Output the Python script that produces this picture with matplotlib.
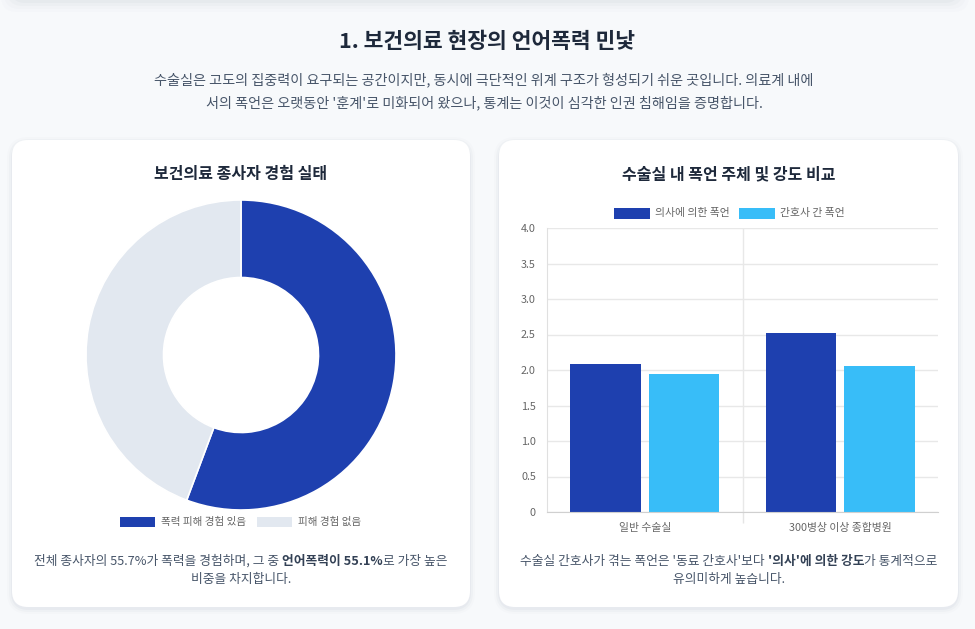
# 보건의료 현장의 언어폭력 - donut + grouped bar dashboard

import numpy as np
import matplotlib.pyplot as plt
from matplotlib.patches import FancyBboxPatch, Rectangle

plt.rcParams['font.family'] = ['Noto Sans CJK KR', 'DejaVu Sans']

# data
donut_labels = ['폭력 피해 경험 있음', '피해 경험 없음']
donut_values = [55.7, 44.3]

bar_categories = ['일반 수술실', '300병상 이상 종합병원']
bar_series = ['의사에 의한 폭언', '간호사 간 폭언']
doctor_values = [2.09, 2.52]
nurse_values = [1.95, 2.05]
y_ticks = [0, 0.5, 1.0, 1.5, 2.0, 2.5, 3.0, 3.5, 4.0]
y_tick_labels = ['0', '0.5', '1.0', '1.5', '2.0', '2.5', '3.0', '3.5', '4.0']

# colours
BG = '#f7f9fb'
DARK = '#1e40af'
SKY = '#38bdf8'
PALE = '#e2e8f0'
TITLE = '#1e293b'
BODY = '#475569'
TICK = '#666666'

W, H = 975, 629
fig = plt.figure(figsize=(W / 100, H / 100), dpi=100, facecolor=BG)

# background axes in pixel coordinates (y downwards)
bg = fig.add_axes([0, 0, 1, 1], zorder=0)
bg.set_xlim(0, W)
bg.set_ylim(H, 0)
bg.axis('off')
bg.set_facecolor(BG)


def card(x0, y0, x1, y1):
    # soft shadow
    for i, a in enumerate([0.05, 0.035, 0.02]):
        s = 2 + i * 2
        bg.add_patch(FancyBboxPatch((x0 - s + 1, y0 - s + 3), x1 - x0 + 2 * s - 2,
                                    y1 - y0 + 2 * s - 2,
                                    boxstyle='round,pad=0,rounding_size=%d' % (16 + s),
                                    fc='#64748b', ec='none', alpha=a))
    bg.add_patch(FancyBboxPatch((x0, y0), x1 - x0, y1 - y0,
                                boxstyle='round,pad=0,rounding_size=16',
                                fc='white', ec='none'))


# shadow of the card above (cut off at the top)
for i, a in enumerate([0.04, 0.03, 0.02, 0.015]):
    s = 2 + i * 3
    bg.add_patch(FancyBboxPatch((12 - s, -60), 946 + 2 * s, 60 + s + 1,
                                boxstyle='round,pad=0,rounding_size=16',
                                fc='#64748b', ec='none', alpha=a))
bg.add_patch(Rectangle((0, -60), W, 60, fc='#eef0f3', ec='none', alpha=0.6))

card(12, 140, 470, 607)
card(499, 140, 958, 607)


def px(x, y):
    return x / W, 1 - y / H


def rich_line(xc, y, parts, size, color, bold_color):
    # draw a centered line made of normal / bold pieces
    renderer = fig.canvas.get_renderer()
    texts = []
    for txt, bold in parts:
        t = bg.text(0, y, txt, fontsize=size, va='center', ha='left',
                    color=bold_color if bold else color,
                    fontweight='bold' if bold else 'normal')
        texts.append(t)
    widths = [t.get_window_extent(renderer).width for t in texts]
    x = xc - sum(widths) / 2
    for t, w in zip(texts, widths):
        t.set_x(x)
        x += w


# header
bg.text(487, 42, '1. 보건의료 현장의 언어폭력 민낯', fontsize=15.5, fontweight='bold',
        color=TITLE, ha='center', va='center')
bg.text(484, 80, '수술실은 고도의 집중력이 요구되는 공간이지만, 동시에 극단적인 위계 구조가 형성되기 쉬운 곳입니다. 의료계 내에',
        fontsize=10.2, color=BODY, ha='center', va='center')
bg.text(484, 103, "서의 폭언은 오랫동안 '훈계'로 미화되어 왔으나, 통계는 이것이 심각한 인권 침해임을 증명합니다.",
        fontsize=10.2, color=BODY, ha='center', va='center')

# card titles
bg.text(241, 174, '보건의료 종사자 경험 실태', fontsize=11.5, fontweight='bold',
        color=TITLE, ha='center', va='center')
bg.text(729, 174, '수술실 내 폭언 주체 및 강도 비교', fontsize=11.5, fontweight='bold',
        color=TITLE, ha='center', va='center')

# captions
rich_line(241, 561, [('전체 종사자의 55.7%가 폭력을 경험하며, 그 중 ', False),
                     ('언어폭력이 55.1%', True), ('로 가장 높은', False)],
          9.2, BODY, '#334155')
rich_line(241, 580, [('비중을 차지합니다.', False)], 9.2, BODY, '#334155')
rich_line(729, 561, [("수술실 간호사가 겪는 폭언은 '동료 간호사'보다 ", False),
                     ("'의사'에 의한 강도", True), ('가 통계적으로', False)],
          9.2, BODY, '#334155')
rich_line(729, 580, [('유의미하게 높습니다.', False)], 9.2, BODY, '#334155')

# donut chart
r = 155
l, b = px(241 - r, 355 + r)
ax1 = fig.add_axes([l, b, 2 * r / W, 2 * r / H], zorder=2)
ax1.pie(donut_values, colors=[DARK, PALE], startangle=90, counterclock=False,
        radius=1, wedgeprops=dict(width=0.5, edgecolor='white', linewidth=1.2))
ax1.set_xlim(-1, 1)
ax1.set_ylim(-1, 1)
ax1.set_aspect('auto')
ax1.axis('off')

# donut legend
legend_x = [120, 257]
for lx, lab, col in zip(legend_x, donut_labels, [DARK, PALE]):
    bg.add_patch(Rectangle((lx, 517), 35, 10, fc=col, ec='none'))
    bg.text(lx + 41, 522, lab, fontsize=7.6, color=TICK, ha='left', va='center')

# bar chart
l, b = px(547, 512)
ax2 = fig.add_axes([l, b, (938 - 547) / W, (512 - 228) / H], zorder=2)
x = np.arange(len(bar_categories))
bw = 0.36
ax2.bar(x - 0.2, doctor_values, bw, color=DARK, label=bar_series[0])
ax2.bar(x + 0.2, nurse_values, bw, color=SKY, label=bar_series[1])
ax2.set_xlim(-0.5, len(bar_categories) - 0.5)
ax2.set_ylim(0, 4.0)
ax2.set_yticks(y_ticks)
ax2.set_yticklabels(y_tick_labels)
ax2.set_xticks(x)
ax2.set_xticklabels(bar_categories)
ax2.set_xticks([0.5], minor=True)
ax2.tick_params(axis='y', length=0, pad=8, labelsize=7.8, labelcolor=TICK)
ax2.tick_params(axis='x', which='major', length=0, pad=8, labelsize=7.8, labelcolor=TICK)
ax2.tick_params(axis='x', which='minor', length=8, color='#e5e5e5', width=1)
ax2.grid(axis='y', color='#e8e8e8', linewidth=1)
ax2.axvline(0.5, color='#e8e8e8', linewidth=1, zorder=0)
ax2.set_axisbelow(True)
for side in ['top', 'right']:
    ax2.spines[side].set_visible(False)
ax2.spines['left'].set_color('#e0e0e0')
ax2.spines['bottom'].set_color('#d0d0d0')
ax2.set_facecolor('none')

# bar legend
legend_x = [614, 739]
for lx, lab, col in zip(legend_x, bar_series, [DARK, SKY]):
    bg.add_patch(Rectangle((lx, 208), 36, 11, fc=col, ec='none'))
    bg.text(lx + 41, 213, lab, fontsize=7.8, color=TICK, ha='left', va='center')

fig.savefig('out.png', dpi=100, facecolor=BG)
